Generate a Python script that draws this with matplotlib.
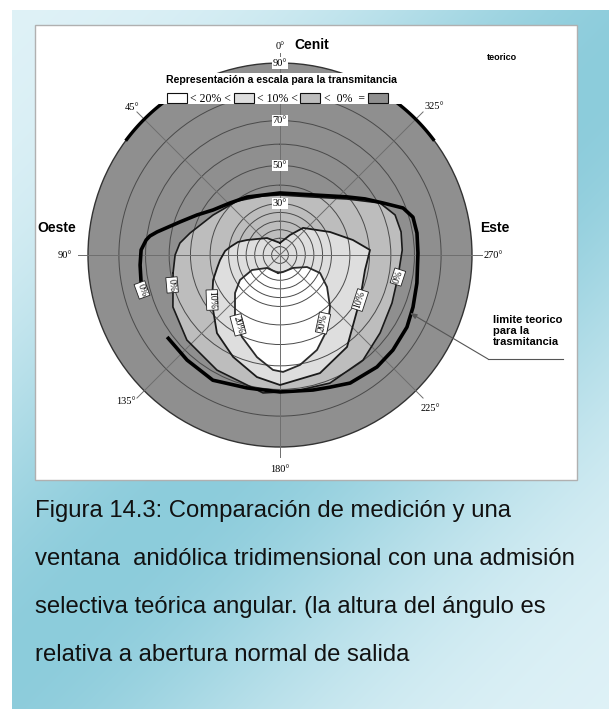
import numpy as np
import matplotlib
matplotlib.use("Agg")
import matplotlib.pyplot as plt
from matplotlib.patches import Rectangle

# ---------------- data (azimuth in degrees, elevation in degrees) ----------------
grid_el = [5, 10, 15, 20, 25, 30, 40, 50, 60, 70, 80]
ring_label_el = [30, 50, 70, 90]
azimuth_lines = [0, 45, 90, 135, 180, 225, 270, 315]
azimuth_text = ["0°", "45°", "90°", "135°", "180°", "225°", "270°", "325°"]
azimuth_text_az = [0, 45, 90, 133.5, 180, 224.5, 270, 314]
azimuth_text_el = [94.8, 94.8, 96.5, 95.9, 96.4, 96.4, 95.9, 96.3]

# theoretical limit (thick curve, open)
theory_az = [107.3, 100.2, 94.1, 87.9, 83.6, 81.7, 79.4, 71.7, 64.3, 56.1, 43.9, 29.6, 0,
             331.2, 310.9, 303.4, 296.8, 290.9, 285.9, 279.1, 270.8, 258.4, 248.6, 240.4,
             229.9, 220.9, 208.7, 200.7, 193.7, 180, 166.1, 151.8, 138.5, 126.0]
theory_el = [73.9, 72.7, 72.3, 71.8, 70.1, 68.8, 66.2, 57.5, 51.3, 45.6, 41.2, 38.3, 35.8,
             39.3, 49.6, 55.9, 62.0, 68.9, 71.5, 71.7, 71.4, 72.1, 73.3, 74.5,
             75.1, 75.3, 74.5, 72.7, 71.8, 71.0, 71.0, 73.0, 72.3, 72.0]

# 0 % contour (closed)
c0_az = [99.5, 90, 83.2, 76.3, 59.2, 38.5, 16.1, 0, 330.4, 309.9, 297.5, 289.2, 280.8,
         272.3, 259.4, 246.8, 232.1, 218.3, 201.3, 186.3, 173, 151.3, 132.4, 115.9]
c0_el = [58.9, 57.3, 55.4, 51.5, 44.2, 39.5, 35.5, 34.7, 38.3, 48.9, 60.8, 64.8, 65.4,
         65.0, 64.0, 64.8, 66.9, 69.8, 71.2, 71.0, 71.8, 68.7, 66.6, 63.6]

# 10 % contour (closed)
c10_az = [0, 37.4, 65.6, 72.8, 80.9, 85.8, 94.8, 101.7, 110.5, 125.2, 141.1, 155.3,
          169.3, 180, 198.7, 216.1, 240.6, 260, 265.4, 273.2, 281.6, 294.7, 319.6, 333.4]
c10_el = [7.2, 12.7, 21.4, 25.8, 29.5, 32.0, 34.8, 37.0, 40.8, 46.9, 55.2, 60.6,
          65.8, 68.2, 66.0, 61.3, 51.1, 48.4, 48.9, 50.3, 42.4, 32.0, 21.0, 13.3]

# 20 % contour (closed)
c20_az = [173.7, 135, 118.2, 122, 130.2, 144, 155.1, 167.3, 176.5, 181.5, 190.3, 201.3,
          212.1, 223.9, 235.8, 245.8, 246, 225, 190]
c20_el = [10.8, 10.9, 18.8, 27.6, 34.1, 43.5, 50.4, 57.2, 61.9, 62.7, 60.4, 55.9,
          49.5, 41.2, 33.0, 25.8, 17.5, 10.9, 10.3]

# contour labels: text, azimuth, elevation, rotation
clab_text = ["0%", "0%", "10%", "20%", "20%", "10%", "0%"]
clab_az = [104.2, 105.5, 123.5, 149.0, 212.3, 240.6, 259.4]
clab_el = [73.1, 60.5, 46.0, 46.0, 45.5, 51.1, 64.0]
clab_rot = [-70, -85, -88, -75, 78, 72, 72]

legend_labels = ["< 20% <", "< 10% <", "<  0%  ="]

# ---------------- style ----------------
SERIF = "Liberation Serif"
SANS = "Liberation Sans"
C_DARK = "#8f8f8f"
C_MID = "#bdbdbd"
C_LIGHT = "#dedede"
C_WHITE = "#ffffff"

W, H = 609, 709
fig = plt.figure(figsize=(W / 100, H / 100), dpi=100)

# background gradient
bg = fig.add_axes([0, 0, 1, 1], zorder=-10)
yy, xx = np.mgrid[0:H, 0:W]
d = np.exp(-((xx + yy - 680) / 330.0) ** 2)
light = np.array([0.88, 0.95, 0.97])
dark = np.array([0.55, 0.80, 0.86])
img = light + (dark - light) * d[..., None]
img[(xx < 12) | (yy < 10)] = 1.0
bg.imshow(img, extent=[0, W, H, 0], aspect="auto", interpolation="bilinear")
bg.set_xlim(0, W)
bg.set_ylim(H, 0)
bg.axis("off")
bg.add_patch(Rectangle((35, 25), 542, 455, facecolor="white", edgecolor="#b0b0b0", lw=1))

# caption
caption = ["Figura 14.3: Comparación de medición y una",
           "ventana  anidólica tridimensional con una admisión",
           "selectiva teórica angular. (la altura del ángulo es",
           "relativa a abertura normal de salida"]
for i, line in enumerate(caption):
    bg.text(35, 517 + 48 * i, line, fontsize=17.2, family=SANS, color="#111111",
            va="baseline", ha="left")

# polar axes (stereographic radial scale)
R, CX, CY = 192, 280, 255
ax = fig.add_axes([(CX - R) / W, 1 - (CY + R) / H, 2 * R / W, 2 * R / H],
                  projection="polar", zorder=1)
ax.set_theta_zero_location("N")
ax.set_theta_direction(1)
ax.set_rscale("function",
              functions=(lambda r: np.tan(np.radians(np.asarray(r)) / 2.0),
                         lambda t: 2.0 * np.degrees(np.arctan(np.asarray(t)))))
ax.set_facecolor(C_DARK)
ax.set_autoscale_on(False)


def th(a):
    return np.unwrap(np.radians(np.asarray(a, dtype=float)))


def closed(a):
    a = list(a)
    return a + a[:1]


ax.fill(th(c0_az), c0_el, color=C_MID, lw=0, zorder=1)
ax.fill(th(c10_az), c10_el, color=C_LIGHT, lw=0, zorder=1.1)
ax.fill(th(c20_az), c20_el, color=C_WHITE, lw=0, zorder=1.2)

ax.plot(th(closed(c0_az)), closed(c0_el), color="#1a1a1a", lw=1.2, zorder=4,
        solid_joinstyle="round")
ax.plot(th(closed(c10_az)), closed(c10_el), color="#1a1a1a", lw=1.3, zorder=4,
        solid_joinstyle="round")
ax.plot(th(closed(c20_az)), closed(c20_el), color="#2a2a2a", lw=1.3, zorder=4,
        solid_joinstyle="round")
ax.plot(th(theory_az), theory_el, color="black", lw=2.6, zorder=4.5,
        solid_capstyle="butt", solid_joinstyle="round")

# grid
ax.set_rgrids(grid_el, labels=[""] * len(grid_el))
ax.set_thetagrids([])
ax.yaxis.grid(True, color="#4a4a4a", lw=0.7)
ax.set_axisbelow(False)
for a in azimuth_lines:
    ax.plot([np.radians(a)] * 2, [0, 93], color="#6e6e6e", lw=0.7, zorder=2.6,
            clip_on=False)
ax.spines["polar"].set_color("#333333")
ax.spines["polar"].set_linewidth(1.0)

# thick outer arcs near top
for a0, a1 in [(38, 53), (307, 322)]:
    aa = np.radians(np.arange(a0, a1 + 1))
    ax.plot(aa, [90] * len(aa), color="black", lw=2.4, zorder=5, clip_on=False)

# ring labels
for e in ring_label_el:
    ax.text(0, e, f"{e}°", fontsize=7.5, family=SERIF, ha="center", va="center",
            zorder=6, bbox=dict(boxstyle="square,pad=0.1", fc="white", ec="none"))

# azimuth labels
for t, a, e in zip(azimuth_text, azimuth_text_az, azimuth_text_el):
    ax.text(np.radians(a), e, t, fontsize=7.5, family=SERIF, ha="center", va="center",
            zorder=6, clip_on=False)

# contour labels
for t, a, e, r in zip(clab_text, clab_az, clab_el, clab_rot):
    ax.text(np.radians(a), e, t, fontsize=7, family=SERIF, ha="center", va="center",
            rotation=r, rotation_mode="anchor", zorder=7,
            bbox=dict(boxstyle="square,pad=0.12", fc="white", ec="#222222", lw=0.6))

ax.set_rlim(0, 90)

# overlay (pixel coordinates) for legend and notes
ov = fig.add_axes([0, 0, 1, 1], zorder=5)
ov.set_xlim(0, W)
ov.set_ylim(H, 0)
ov.axis("off")
ov.patch.set_alpha(0)

ov.add_patch(Rectangle((150, 73), 262, 31, facecolor="white", edgecolor="none"))
ov.text(281, 80, "Representación a escala para la transmitancia", fontsize=7.6,
        family=SANS, weight="bold", ha="center", va="center")
sw_x = [167, 234, 300, 368]
sw_c = [C_WHITE, C_LIGHT, C_MID, C_DARK]
for x0, c in zip(sw_x, sw_c):
    ov.add_patch(Rectangle((x0, 93), 20, 10, facecolor=c, edgecolor="#111111", lw=0.8))
for xc, t in zip([210, 277, 344], legend_labels):
    ov.text(xc, 98.5, t, fontsize=8.5, family=SERIF, ha="center", va="center")

ov.text(312, 45, "Cenit", fontsize=10, family=SANS, weight="bold", ha="center",
        va="center")
ov.text(57, 228, "Oeste", fontsize=10, family=SANS, weight="bold", ha="center",
        va="center")
ov.text(495, 228, "Este", fontsize=10, family=SANS, weight="bold", ha="center",
        va="center")
ov.text(502, 57, "teorico", fontsize=6.5, family=SANS, weight="bold", ha="center",
        va="center")
ov.text(493, 331, "limite teorico\npara la\ntrasmitancia", fontsize=8, family=SANS,
        weight="bold", ha="left", va="center", linespacing=1.15)
ov.plot([488, 563], [359, 359], color="#555555", lw=0.8)

ax.annotate("", xy=(np.radians(246), 73.1), xytext=(488, 359),
            textcoords=ov.transData, annotation_clip=False,
            arrowprops=dict(arrowstyle="-|>,head_length=0.4,head_width=0.15",
                            color="#555555", lw=0.8, shrinkA=0, shrinkB=0),
            zorder=8)

fig.savefig("out.png", dpi=100)
